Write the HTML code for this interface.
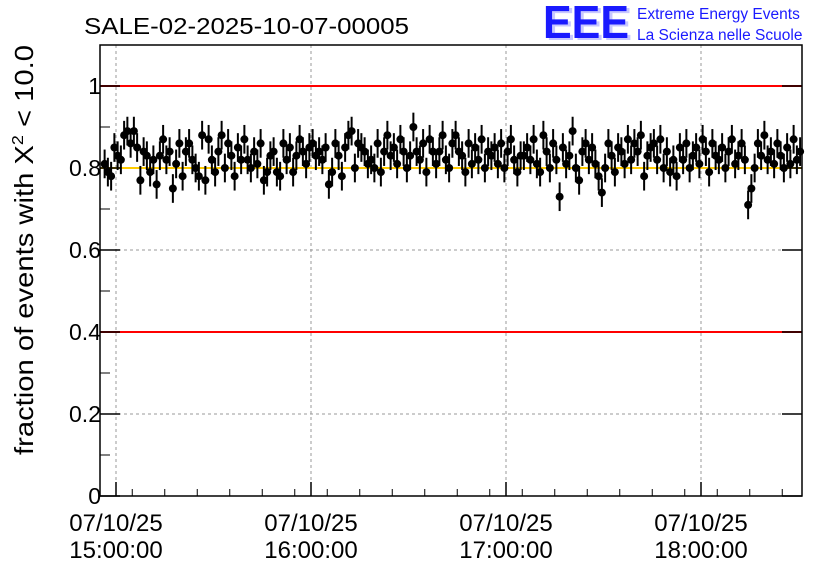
<!DOCTYPE html>
<html><head><meta charset="utf-8"><style>
body{margin:0;background:#fff;}
svg text{font-family:"Liberation Sans",sans-serif;}
</style></head><body>
<svg id="chart" width="836" height="572" xmlns="http://www.w3.org/2000/svg">
<rect width="836" height="572" fill="#fff"/>
<text x="84" y="34" font-size="23" textLength="325" lengthAdjust="spacingAndGlyphs">SALE-02-2025-10-07-00005</text>
<g>
<text x="546" y="40" font-size="46" font-weight="bold" fill="#c8c8ff" textLength="86" lengthAdjust="spacingAndGlyphs">EEE</text>
<text x="543" y="38" font-size="46" font-weight="bold" fill="#1a1aff" textLength="86" lengthAdjust="spacingAndGlyphs">EEE</text>
<text x="637" y="19" font-size="15.5" fill="#1a1aff">Extreme Energy Events</text>
<text x="637" y="40" font-size="15.5" fill="#1a1aff">La Scienza nelle Scuole</text>
</g>
<g id="grid"></g>
<g id="refs"></g>
<g id="marks"></g>
<rect x="100" y="45" width="702" height="451" fill="none" stroke="#000" stroke-width="1.5"/>
<g id="axes"></g>
<text transform="translate(33,250) rotate(-90)" text-anchor="middle" font-size="26" textLength="410" lengthAdjust="spacingAndGlyphs">fraction of events with X<tspan font-size="16" dy="-10">2</tspan><tspan dy="10"> &lt; 10.0</tspan></text>
</svg>
<script>
const values=[
.81,.79,.78,.85,.83,.82,.88,.89,.86,.89,.85,.77,.84,.83,.79,.82,.76,.83,.87,.82,
.84,.75,.81,.86,.78,.84,.86,.82,.80,.78,.88,.77,.87,.82,.79,.84,.88,.80,.86,.83,
.78,.85,.82,.87,.82,.80,.84,.81,.86,.77,.79,.83,.84,.79,.78,.86,.82,.85,.79,.83,
.87,.84,.81,.85,.86,.83,.84,.82,.85,.76,.79,.86,.83,.78,.85,.88,.89,.80,.86,.85,
.84,.81,.82,.80,.86,.79,.84,.88,.83,.85,.81,.87,.84,.80,.83,.90,.84,.82,.86,.79,
.87,.84,.81,.84,.88,.82,.80,.86,.88,.84,.83,.79,.86,.81,.85,.82,.87,.80,.84,.83,
.85,.81,.86,.80,.84,.87,.82,.79,.83,.83,.85,.82,.87,.81,.79,.88,.84,.80,.86,.82,
.73,.85,.81,.83,.89,.80,.77,.84,.86,.82,.85,.81,.78,.74,.80,.86,.83,.79,.85,.84,
.81,.87,.82,.86,.84,.88,.78,.83,.85,.86,.82,.87,.80,.84,.79,.82,.78,.85,.82,.86,
.80,.83,.85,.81,.87,.84,.79,.86,.83,.82,.85,.80,.84,.87,.81,.83,.86,.82,.71,.75,
.80,.86,.83,.88,.82,.84,.81,.86,.83,.80,.85,.81,.87,.82,.84,.80,.83];
const errs=0.035;
const startMinute=-4; // minutes relative to 15:00
const yTicks=[0,0.2,0.4,0.6,0.8,1];
const yTickLabels=["0","0.2","0.4","0.6","0.8","1"];
const xTickMinutes=[0,60,120,180];
const xTickDates=["07/10/25","07/10/25","07/10/25","07/10/25"];
const xTickTimes=["15:00:00","16:00:00","17:00:00","18:00:00"];
const refValues=[1,0.4];
const targetValue=0.8;

const NS="http://www.w3.org/2000/svg";
const X=m=>116+m*195/60;
const Y=v=>496-v*410;
function mk(tag,attrs,parent){const e=document.createElementNS(NS,tag);for(const k in attrs)e.setAttribute(k,attrs[k]);parent.appendChild(e);return e;}
const grid=document.getElementById('grid'),refs=document.getElementById('refs'),marks=document.getElementById('marks'),axes=document.getElementById('axes');
yTicks.forEach((t,i)=>{
  if(t>0){const g=mk('line',{x1:100,x2:802,y1:Y(t),y2:Y(t),stroke:'#999','stroke-dasharray':'3,3'},grid);
  
  }
  const tk=mk('line',{x1:100,x2:120,y1:Y(t),y2:Y(t),stroke:'#000','stroke-width':1.5},axes);
  
  
  const tr=mk('line',{x1:782,x2:802,y1:Y(t),y2:Y(t),stroke:'#000','stroke-width':1.5},axes);
  
  
  const lb=mk('text',{x:101,y:Y(t)+8,'text-anchor':'end','font-size':23},axes);lb.textContent=yTickLabels[i];
  
  
  if(i<yTicks.length-1){const m=mk('line',{x1:100,x2:110,y1:Y(t+0.1),y2:Y(t+0.1),stroke:'#000'},axes);
  
  }
});
xTickMinutes.forEach((m,i)=>{
  const g=mk('line',{x1:X(m),x2:X(m),y1:45,y2:496,stroke:'#999','stroke-dasharray':'3,3'},grid);
  
  
  const tk=mk('line',{x1:X(m),x2:X(m),y1:482,y2:496,stroke:'#000','stroke-width':1.5},axes);
  
  
  const l1=mk('text',{x:X(m),y:531,'text-anchor':'middle','font-size':24},axes);l1.textContent=xTickDates[i];
  
  
  const l2=mk('text',{x:X(m),y:558,'text-anchor':'middle','font-size':24},axes);l2.textContent=xTickTimes[i];
  
  
});
for(let m=-5;m<=210;m+=10){if(m%60===0)continue;const x=X(m);if(x<100||x>802)continue;
  const t=mk('line',{x1:x,x2:x,y1:489,y2:496,stroke:'#000'},axes);
  
  }
refValues.forEach(v=>{const l=mk('line',{x1:100,x2:802,y1:Y(v),y2:Y(v),stroke:'#f00','stroke-width':2},refs);
  
  });
const tl=mk('line',{x1:100,x2:802,y1:Y(targetValue),y2:Y(targetValue),stroke:'#fc0','stroke-width':2},refs);


values.forEach((v,i)=>{
  const x=X(startMinute+i+0.5);
  if(x>801)return;
  const e=mk('line',{x1:x,x2:x,y1:Y(v+errs),y2:Y(v-errs),stroke:'#000','stroke-width':2},marks);
  
  
  const c=mk('circle',{cx:x,cy:Y(v),r:4,fill:'#000'},marks);
  
  
});
</script>
</body></html>
